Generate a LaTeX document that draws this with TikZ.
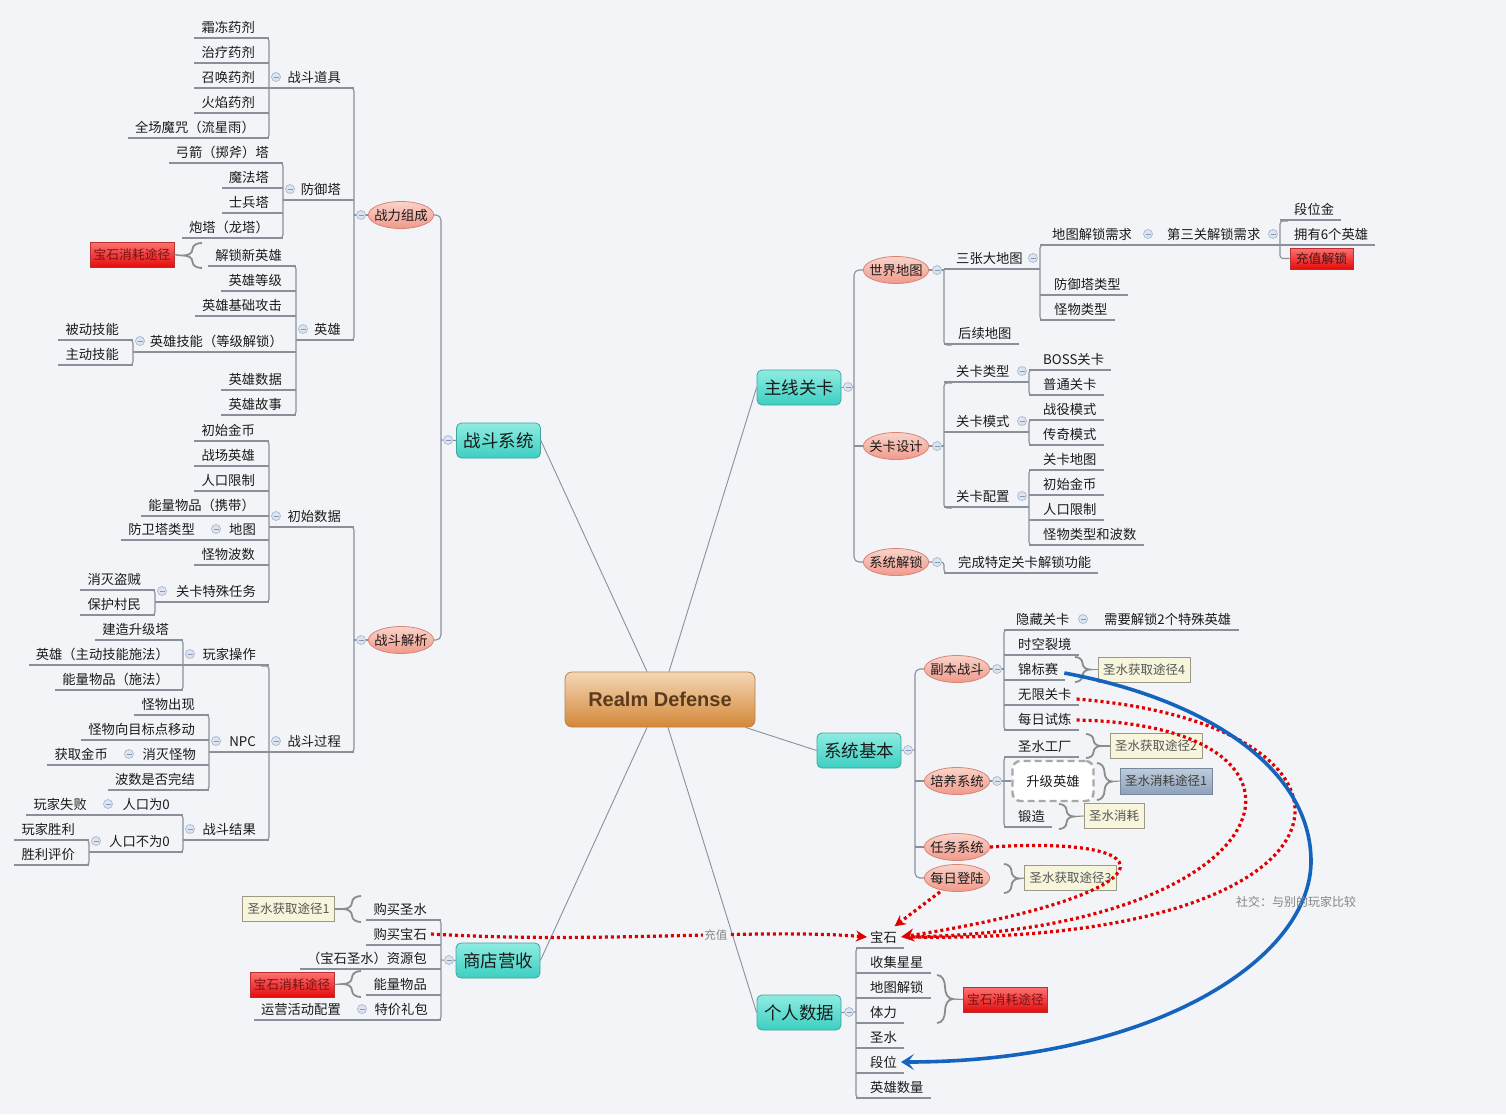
\documentclass[tikz,border=0pt]{standalone}
\usepackage{fontspec}
\setmainfont{Noto Sans CJK SC}
\newfontfamily\rdfont{Liberation Sans}
\usetikzlibrary{shapes.geometric,arrows.meta,calc}

\definecolor{bg}{HTML}{F2F4F8}
\definecolor{lnc}{HTML}{8A9099}
\definecolor{txc}{HTML}{1A1A1A}
\definecolor{tealt}{HTML}{8FECE2}
\definecolor{tealbo}{HTML}{3CCFC1}
\definecolor{tealb}{HTML}{3FA59C}
\definecolor{ovt}{HTML}{FAD3C9}
\definecolor{ovbo}{HTML}{F09A8B}
\definecolor{ovb}{HTML}{D88476}
\definecolor{ort}{HTML}{F4D7B6}
\definecolor{orbo}{HTML}{D38838}
\definecolor{orb}{HTML}{B98048}
\definecolor{ortx}{HTML}{5B3B1E}
\definecolor{redt}{HTML}{FF7272}
\definecolor{redbo}{HTML}{E40C0C}
\definecolor{redb}{HTML}{B83030}
\definecolor{redtx}{HTML}{7A1212}
\definecolor{yf}{HTML}{F7F5DC}
\definecolor{yb}{HTML}{9C9A86}
\definecolor{ytx}{HTML}{555555}
\definecolor{gbt}{HTML}{BFCCDA}
\definecolor{gbbo}{HTML}{8FA2BA}
\definecolor{gbb}{HTML}{7486A0}
\definecolor{mnf}{HTML}{DCE4F0}
\definecolor{mnb}{HTML}{A9B8D0}
\definecolor{mnl}{HTML}{8798B8}
\definecolor{brc}{HTML}{8C8C8C}
\definecolor{redd}{HTML}{E00000}
\definecolor{bluec}{HTML}{1464BE}
\definecolor{labc}{HTML}{858585}
\definecolor{dgray}{HTML}{A8A8A8}

\tikzset{
  tx/.style={inner sep=0pt, font=\fontsize{13.3}{15}\selectfont, text=txc, text height=11.5pt, text depth=1.5pt},
  ln/.style={draw=lnc, line width=1.1pt},
  tealbox/.style={draw=tealb, line width=0.8pt, rounded corners=5pt, top color=tealt, bottom color=tealbo,
    minimum width=84pt, minimum height=35pt, inner sep=0pt, font=\fontsize{17.5}{20}\selectfont, text=txc},
  oval/.style={ellipse, draw=ovb, line width=0.8pt, top color=ovt, bottom color=ovbo,
    minimum height=27pt, inner xsep=-3.5pt, inner ysep=0pt, font=\fontsize{13.3}{15}\selectfont, text=txc},
  rdbox/.style={draw=orb, line width=0.8pt, rounded corners=7pt, top color=ort, bottom color=orbo,
    minimum width=190pt, minimum height=55pt, inner sep=0pt, font=\rdfont\bfseries\fontsize{20}{24}\selectfont, text=ortx},
  redbox/.style={draw=redb, line width=0.8pt, top color=redt, bottom color=redbo, minimum width=84pt,
    minimum height=25pt, inner sep=0pt, font=\fontsize{12.8}{14}\selectfont, text=redtx},
  ybox/.style={draw=yb, fill=yf, line width=0.8pt, minimum height=25pt, inner xsep=5pt, inner ysep=0pt,
    font=\fontsize{12.5}{14}\selectfont, text=ytx},
  gbox/.style={draw=gbb, line width=0.8pt, top color=gbt, bottom color=gbbo, minimum height=26pt,
    inner xsep=5pt, inner ysep=0pt, font=\fontsize{12.5}{14}\selectfont, text=txc!85},
  dbox/.style={draw=dgray, fill=white, line width=2.4pt, dash pattern=on 7pt off 4pt, rounded corners=8pt,
    minimum width=81pt, minimum height=40pt, inner sep=0pt, font=\fontsize{13.3}{15}\selectfont, text=txc},
  bracel/.style={draw=brc, line width=1.8pt},
  brlink/.style={draw=brc, line width=1.1pt},
  rdot/.style={draw=redd, line width=3.2pt, dash pattern=on 3pt off 3pt},
  bluearc/.style={draw=bluec, line width=3.6pt},
  lbl/.style={inner sep=1pt, font=\fontsize{11.5}{13}\selectfont, text=labc},
}

% minus marker
\newcommand\xmn[2]{\filldraw[fill=mnf,draw=mnb,line width=0.7pt] (#1,#2) circle[radius=4.5pt];
  \draw[mnl,line width=0.9pt] (#1-2.5,#2) -- (#1+2.5,#2);}
% left leaf: name, parent vertical x, y, text
\newcommand\xLL[4]{\node[tx,anchor=east] (#1) at (#2-14,#3) {#4};
  \draw[ln] ([xshift=-7pt,yshift=-11pt]#1.west) -- (#2,#3+11);}
% left parent: name, parent vertical x, y, text, own vertical x
\newcommand\xLP[5]{\node[tx,anchor=east] (#1) at (#2-13,#3) {#4};
  \draw[ln] (#5,#3+11) -- (#2,#3+11); \xmn{#5+7}{#3}}
% right leaf
\newcommand\xRL[4]{\node[tx,anchor=west] (#1) at (#2+14,#3) {#4};
  \draw[ln] (#2,#3+11) -- ([xshift=7pt,yshift=-11pt]#1.east);}
% right parent
\newcommand\xRP[5]{\node[tx,anchor=west] (#1) at (#2+12,#3) {#4};
  \draw[ln] (#2,#3+11) -- (#5,#3+11); \xmn{#5-7}{#3}}
% verticals
\newcommand\xVL[3]{\draw[ln,rounded corners=3pt] (#1-8,#2) -- (#1,#2) -- (#1,#3) -- (#1-8,#3);}
\newcommand\xVR[3]{\draw[ln,rounded corners=3pt] (#1+8,#2) -- (#1,#2) -- (#1,#3) -- (#1+8,#3);}
% braces: tip x, end x, y1, y2
\newcommand\xBL[4]{%
  \pgfmathsetmacro\bxm{(#1+#2)/2}\pgfmathsetmacro\byA{(3*#3+#4)/4}%
  \pgfmathsetmacro\byM{(#3+#4)/2}\pgfmathsetmacro\byB{(#3+3*#4)/4}%
  \draw[bracel] (#2,#3) to[out=180,in=90] (\bxm,\byA) to[out=-90,in=0] (#1,\byM)
    to[out=0,in=90] (\bxm,\byB) to[out=-90,in=180] (#2,#4);}
\newcommand\xBR[4]{%
  \pgfmathsetmacro\bxm{(#1+#2)/2}\pgfmathsetmacro\byA{(3*#3+#4)/4}%
  \pgfmathsetmacro\byM{(#3+#4)/2}\pgfmathsetmacro\byB{(#3+3*#4)/4}%
  \draw[bracel] (#2,#3) to[out=0,in=90] (\bxm,\byA) to[out=-90,in=180] (#1,\byM)
    to[out=180,in=90] (\bxm,\byB) to[out=-90,in=0] (#2,#4);}

\begin{document}
\begin{tikzpicture}[x=1pt,y=-1pt]
\fill[bg] (0,0) rectangle (1506,1114);
\useasboundingbox (0,0) rectangle (1506,1114);

% ---------- main nodes ----------
\node[rdbox] (rd) at (660,699.5) {Realm Defense};
\node[tealbox] (zdxt) at (498.5,440.5) {战斗系统};
\node[tealbox] (zxgk) at (799,387.5) {主线关卡};
\node[tealbox] (xtjb) at (859,750.5) {系统基本};
\node[tealbox] (sdys) at (498,960.5) {商店营收};
\node[tealbox] (grsj) at (799,1012.5) {个人数据};

\draw[ln,line width=0.9pt] (zdxt.east) -- ([xshift=-13pt]rd.north);
\draw[ln,line width=0.9pt] (zxgk.west) -- ([xshift=9pt]rd.north);
\draw[ln,line width=0.9pt] (xtjb.west) -- ([xshift=-10pt]rd.south east);
\draw[ln,line width=0.9pt] (sdys.east) -- ([xshift=-13pt]rd.south);
\draw[ln,line width=0.9pt] (grsj.west) -- ([xshift=8pt]rd.south);

% ---------- 战斗系统 ----------
\node[oval] (zlzc) at (401,215) {战力组成};
\node[oval] (zdjx) at (401,640) {战斗解析};
\draw[ln,rounded corners=5pt] (zlzc.east) -- (441,215) -- (441,640) -- (zdjx.east);
\draw[ln] (441,440) -- (zdxt.west);
\xmn{448}{440}
\draw[ln] (354,215) -- (zlzc.west); \xmn{361}{215}
\xVL{354}{88}{340}
\draw[ln] (354,640) -- (zdjx.west); \xmn{361}{640}
\xVL{354}{527}{752}

% 战斗道具
\xLL{a1}{269}{27}{霜冻药剂}
\xLL{a2}{269}{52}{治疗药剂}
\xLL{a3}{269}{77}{召唤药剂}
\xLL{a4}{269}{102}{火焰药剂}
\xLL{a5}{269}{127}{全场魔咒（流星雨）}
\xVL{269}{38}{138}
\xLP{zddj}{354}{77}{战斗道具}{269}

% 防御塔
\xLL{b1}{283}{152}{弓箭（掷斧）塔}
\xLL{b2}{283}{177}{魔法塔}
\xLL{b3}{283}{202}{士兵塔}
\xLL{b4}{283}{227}{炮塔（龙塔）}
\xVL{283}{163}{238}
\xLP{fyt}{354}{189}{防御塔}{283}

% 英雄
\xLL{c1}{296}{255}{解锁新英雄}
\xLL{c2}{296}{280}{英雄等级}
\xLL{c3}{296}{305}{英雄基础攻击}
\xLP{c4}{296}{341}{英雄技能（等级解锁）}{133}
\xLL{c41}{133}{329}{被动技能}
\xLL{c42}{133}{354}{主动技能}
\xVL{133}{340}{365}
\xLL{c5}{296}{379}{英雄数据}
\xLL{c6}{296}{404}{英雄故事}
\xVL{296}{266}{415}
\xLP{yx}{354}{329}{英雄}{296}
\node[redbox] (r1) at (132,254.5) {宝石消耗途径};
\xBL{183}{202}{243}{268}
\draw[brlink] (183,255.5) -- (r1.east);

% 初始数据
\xLL{d1}{269}{430}{初始金币}
\xLL{d2}{269}{455}{战场英雄}
\xLL{d3}{269}{480}{人口限制}
\xLL{d4}{269}{505}{能量物品（携带）}
\xLP{d5}{269}{529}{地图}{209}
\xLL{d51}{209}{529}{防卫塔类型}
\xLL{d6}{269}{554}{怪物波数}
\xLP{d7}{269}{591}{关卡特殊任务}{155}
\xLL{d71}{155}{579}{消灭盗贼}
\xLL{d72}{155}{604}{保护村民}
\xVL{155}{590}{615}
\xVL{269}{441}{602}
\xLP{csj}{354}{516}{初始数据}{269}

% 战斗过程
\xLP{e1}{269}{654}{玩家操作}{183}
\xLL{e11}{183}{629}{建造升级塔}
\xLL{e12}{183}{654}{英雄（主动技能施法）}
\xLL{e13}{183}{679}{能量物品（施法）}
\xVL{183}{640}{690}
\xLP{e2}{269}{741}{NPC}{209}
\xLL{e21}{209}{704}{怪物出现}
\xLL{e22}{209}{729}{怪物向目标点移动}
\xLP{e23}{209}{754}{消灭怪物}{122}
\xLL{e231}{122}{754}{获取金币}
\xLL{e24}{209}{779}{波数是否完结}
\xVL{209}{715}{790}
\xLP{e3}{269}{829}{战斗结果}{183}
\xLP{e31}{183}{804}{人口为0}{101}
\xLL{e311}{101}{804}{玩家失败}
\xLP{e32}{183}{841}{人口不为0}{89}
\xLL{e321}{89}{829}{玩家胜利}
\xLL{e322}{89}{854}{胜利评价}
\xVL{89}{840}{865}
\xVL{183}{815}{852}
\xVL{269}{666}{840}
\xLP{zdgc}{354}{741}{战斗过程}{269}

% ---------- 商店营收 ----------
\draw[ln] (441,960) -- (sdys.west); \xmn{449}{960}
\xLL{f1}{441}{909}{购买圣水}
\xLL{f2}{441}{934}{购买宝石}
\xLL{f3}{441}{958}{（宝石圣水）资源包}
\xLL{f4}{441}{984}{能量物品}
\xLP{f5}{441}{1009}{特价礼包}{355}
\xLL{f51}{355}{1009}{运营活动配置}
\xVL{441}{920}{1020}
\node[ybox] (y1) at (288.5,909) {圣水获取途径1};
\xBL{343}{361}{896}{922}
\draw[brlink] (343,909) -- (y1.east);
\node[redbox] (r2) at (292,984.5) {宝石消耗途径};
\xBL{343}{361}{971}{997}
\draw[brlink] (343,984) -- (r2.east);

% ---------- 主线关卡 ----------
\node[oval] (sjdt) at (896,270) {世界地图};
\node[oval] (gksj) at (896,446) {关卡设计};
\node[oval] (xtjs) at (896,562) {系统解锁};
\draw[ln] (zxgk.east) -- (854,387); \xmn{848}{387}
\draw[ln,rounded corners=5pt] (sjdt.west) -- (854,270) -- (854,562) -- (xtjs.west);
\draw[ln] (854,446) -- (gksj.west);

% 世界地图
\draw[ln] (sjdt.east) -- (944,270); \xmn{937}{270}
\draw[ln,rounded corners=3pt] (944,270) -- (944,345) -- (952,345);
\xRP{g1}{944}{258}{三张大地图}{1040}
\xRL{g2}{944}{333}{后续地图}
\xVR{1040}{245}{320}
\xRP{g11}{1040}{234}{地图解锁需求}{1155}
\xRP{g111}{1155}{234}{第三关解锁需求}{1280}
\xRL{g1111}{1280}{209}{段位金}
\xRL{g1112}{1280}{234}{拥有6个英雄}
\node[redbox,minimum width=63pt,minimum height=21pt,text=txc!80!red] (r3) at (1321.5,258.5) {充值解锁};
\draw[ln,rounded corners=3pt] (1288,221) -- (1280,221) -- (1280,258.5) -- (r3.west);
\xRL{g12}{1040}{284}{防御塔类型}
\xRL{g13}{1040}{309}{怪物类型}

% 关卡设计
\draw[ln] (gksj.east) -- (944,446); \xmn{937}{446}
\xVR{944}{383}{508}
\xRP{h1}{944}{371}{关卡类型}{1029}
\xRL{h11}{1029}{359}{BOSS关卡}
\xRL{h12}{1029}{384}{普通关卡}
\xVR{1029}{370}{395}
\xRP{h2}{944}{421}{关卡模式}{1029}
\xRL{h21}{1029}{409}{战役模式}
\xRL{h22}{1029}{434}{传奇模式}
\xVR{1029}{420}{445}
\xRP{h3}{944}{496}{关卡配置}{1029}
\xRL{h31}{1029}{459}{关卡地图}
\xRL{h32}{1029}{484}{初始金币}
\xRL{h33}{1029}{509}{人口限制}
\xRL{h34}{1029}{534}{怪物类型和波数}
\xVR{1029}{470}{545}

% 系统解锁
\draw[ln,rounded corners=3pt] (xtjs.east) -- (944,562) -- (944,573) -- (952,573); \xmn{937}{562}
\xRL{i1}{944}{562}{完成特定关卡解锁功能}

% ---------- 系统基本 ----------
\node[oval] (fbzd) at (957,669) {副本战斗};
\node[oval] (pyxt) at (957,781) {培养系统};
\node[oval] (rwxt) at (957,847) {任务系统};
\node[oval] (mrdl) at (957,878) {每日登陆};
\draw[ln] (xtjb.east) -- (915,750); \xmn{908}{750}
\draw[ln,rounded corners=5pt] (fbzd.west) -- (915,669) -- (915,878) -- (mrdl.west);
\draw[ln] (915,781) -- (pyxt.west);
\draw[ln] (915,847) -- (rwxt.west);

% 副本战斗
\draw[ln] (fbzd.east) -- (1004,669); \xmn{997}{669}
\xVR{1004}{630}{730}
\xRP{j1}{1004}{619}{隐藏关卡}{1090}
\xRL{j11}{1090}{619}{需要解锁2个特殊英雄}
\xRL{j2}{1004}{644}{时空裂境}
\xRL{j3}{1004}{669}{锦标赛}
\xRL{j4}{1004}{694}{无限关卡}
\xRL{j5}{1004}{719}{每日试炼}
\node[ybox] (y4) at (1144,669.5) {圣水获取途径4};
\xBR{1090}{1075}{657}{682}
\draw[brlink] (1090,669.5) -- (y4.west);

% 培养系统
\draw[ln] (pyxt.east) -- (1004,781); \xmn{997}{781}
\xVR{1004}{757}{827}
\xRL{k1}{1004}{746}{圣水工厂}
\node[dbox] (k2) at (1053,781) {升级英雄};
\draw[ln] (1004,781) -- (k2.west);
\xRL{k3}{1004}{816}{锻造}
\node[ybox] (y2) at (1156,746) {圣水获取途径2};
\xBR{1101}{1086}{734}{758}
\draw[brlink] (1101,746) -- (y2.west);
\node[gbox] (g5) at (1166,781) {圣水消耗途径1};
\xBR{1112}{1097}{763}{800}
\draw[brlink] (1112,781.5) -- (g5.west);
\node[ybox] (y5) at (1114,816) {圣水消耗};
\xBR{1074}{1059}{804}{829}
\draw[brlink] (1074,816.5) -- (y5.west);

% 每日登陆
\node[ybox] (y3) at (1070.5,878) {圣水获取途径3};
\xBR{1019}{1004}{864}{893}
\draw[brlink] (1019,878.5) -- (y3.west);

% ---------- 个人数据 ----------
\draw[ln] (grsj.east) -- (856,1012); \xmn{849}{1012}
\xVR{856}{948}{1098}
\xRL{bs}{856}{937}{宝石}
\xRL{l1}{856}{962}{收集星星}
\xRL{l2}{856}{987}{地图解锁}
\xRL{l3}{856}{1012}{体力}
\xRL{l4}{856}{1037}{圣水}
\xRL{l5}{856}{1062}{段位}
\xRL{l6}{856}{1087}{英雄数量}
\node[redbox] (r4) at (1005.5,999.5) {宝石消耗途径};
\xBR{953}{937}{975}{1023}
\draw[brlink] (953,999) -- (r4.west);

% ---------- relationship curves ----------
\draw[rdot,-{Stealth[length=11pt,width=11pt]}] ([xshift=4pt]f2.east) .. controls (600,944) and (760,928) .. ([xshift=-3pt]bs.west)
  node[pos=0.6,lbl,fill=bg] (cz) {充值};
\draw[rdot] ([xshift=5pt,yshift=-5pt]j4.east) .. controls (1400,725) and (1380,945) .. ([xshift=14pt]bs.east);
\draw[rdot] ([xshift=5pt,yshift=-1pt]j5.east) .. controls (1350,725) and (1290,930) .. ([xshift=14pt]bs.east);
\draw[rdot,-{Stealth[length=13pt,width=13pt]}] (rwxt.east) .. controls (1180,835) and (1170,895) .. ([xshift=4pt]bs.east);
\draw[rdot,-{Stealth[length=11pt,width=11pt]}] ([xshift=-17pt]mrdl.south) -- ([xshift=11pt,yshift=4pt]bs.north);

\draw[bluearc,-{Stealth[length=13pt,width=16pt,inset=6pt]}] ([xshift=6pt,yshift=-4pt]j3.east)
  .. controls (1210,700) and (1310,770) .. (1311,860)
  .. controls (1312,960) and (1150,1062) .. ([xshift=4pt]l5.east);

\node[lbl,font=\fontsize{12}{14}\selectfont] (sj) at (1296,902) {社交：与别的玩家比较};
\end{tikzpicture}
\end{document}
